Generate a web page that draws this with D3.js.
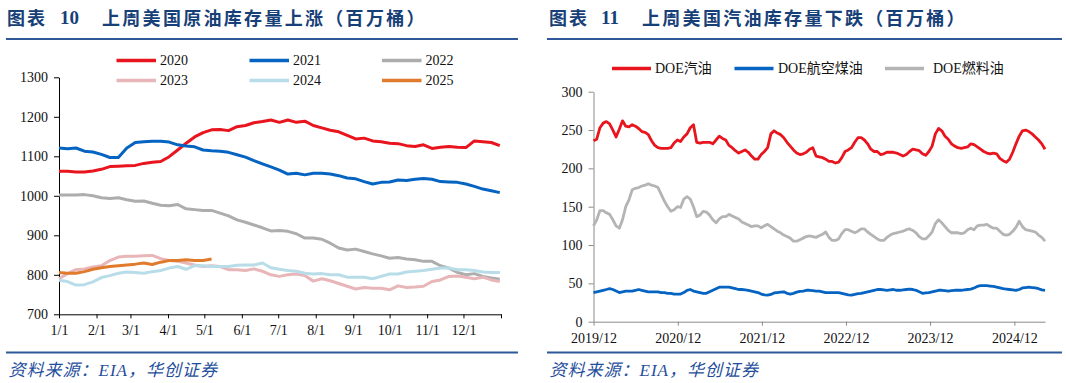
<!DOCTYPE html>
<html><head><meta charset="utf-8">
<script src="https://cdn.jsdelivr.net/npm/d3@7"></script>
<style>body{margin:0;background:#fff;} svg{display:block;}</style>
</head><body>
<svg id="c" width="1066" height="383"></svg>
<script>
// ---------------- Left chart data (weekly, by day of year) ----------------
const oilYears = ["2020", "2021", "2022", "2023", "2024", "2025"];
const oil2020 = [1062,1062,1060,1060,1063,1067,1074,1075,1076,1077,1082,1085,1087,1099,1116,1133,1149,1160,1167,1168,1165,1175,1178,1185,1188,1192,1186,1192,1186,1189,1178,1172,1166,1162,1153,1144,1146,1139,1137,1133,1132,1127,1125,1129,1120,1123,1125,1123,1122,1139,1137,1135,1127];
const oil2021 = [1121,1119,1121,1113,1111,1105,1097,1097,1121,1135,1137,1138,1138,1136,1129,1126,1124,1116,1114,1113,1110,1104,1098,1089,1081,1073,1065,1055,1057,1053,1057,1057,1055,1051,1045,1043,1036,1030,1034,1035,1040,1039,1042,1044,1042,1036,1035,1034,1030,1024,1017,1013,1008];
const oil2022 = [1002,1002,1002,1003,1000,995,993,995,990,986,987,981,976,975,978,967,965,963,963,956,949,939,933,926,919,911,912,910,904,893,893,890,880,868,863,865,859,853,848,842,844,840,838,834,834,823,817,806,800,803,796,792,789];
const oil2023 = [790,803,813,815,820,823,836,845,847,847,848,849,841,836,834,830,825,821,823,821,813,813,811,815,809,800,796,800,802,798,784,790,785,778,771,764,768,766,766,762,772,768,769,771,783,787,796,797,794,790,794,787,783];
const oil2024 = [786,783,774,775,782,793,798,804,807,806,804,808,811,817,821,814,823,823,821,821,821,824,825,825,830,818,814,811,809,804,802,803,800,800,794,794,794,790,796,802,802,807,809,811,814,817,817,813,813,811,807,806,806];
const oil2025 = [806,804,804,808,814,818,821,823,825,827,830,826,832,836,836,838,836,836,840];
const oilTicks = [700, 800, 900, 1000, 1100, 1200, 1300];
const monthLabels = ["1/1","2/1","3/1","4/1","5/1","6/1","7/1","8/1","9/1","10/1","11/1","12/1"];
const monthStartDays = [0,31,59,90,120,151,181,212,243,273,304,334];
const yearEndDay = 365;
const weekDays = 7;

// ---------------- Right chart data (bi-weekly from 2019/12) ----------------
const productNames = ["DOE汽油", "DOE航空煤油", "DOE燃料油"];
const gasoline = [236,238,253,259,261,258,250,241,251,262,255,254,257,255,252,248,247,244,236,230,227,226,226,226,227,233,237,235,241,245,253,257,234,233,234,234,234,232,237,242,239,237,230,227,223,220,222,224,221,216,212,212,218,222,227,245,249,246,244,240,234,229,224,220,218,219,221,225,227,216,215,214,212,209,209,207,208,214,222,224,227,234,240,240,237,232,225,222,222,218,219,221,221,221,220,218,216,218,222,225,224,223,219,217,222,229,245,252,249,242,238,232,229,227,226,227,228,232,231,228,225,222,220,219,220,219,213,210,208,212,221,232,242,249,250,248,245,241,237,232,225];
const jetFuel = [38,39,40,41,42,43,42,40,38,39,40,40,40,41,42,41,40,39,39,39,39,38,38,37,37,36,36,36,38,41,42,40,39,38,37,37,39,41,43,45,45,45,45,44,43,42,42,41.5,41,40,39,38,36,35,34.6,35.5,37.5,38,38.5,39,37,36,37,38.5,39.5,40,41,41,40.5,40,40,39,38,38,38,38,38,37,36,35,34.6,35.5,36.5,37,38,39,40,41,42,42,41.5,41,41.5,42,41,41,41.5,42,42.5,42,41,39,37,37.5,38,39,40,41,41,40.5,40,40.5,41,41,41,41.5,42,42.5,44,46,47,47,47,46.5,46,45,44,43,42.5,42,41.5,41,42,44,44.5,45,44.5,44,43,41.5,41];
const distillate = [125,133,145,145,142,140,133,125,122,133,150,159,172,174,175,177,178,180,178,177,175,166,157,150,144,146,150,149,160,163,160,150,137,139,144,143,139,133,129,134,137,137,140,138,136,134,130,128,126,124,125,125,122.5,125,127,124,121,118,116,113,111,109,105,105,107,109,111,112,111,110,112,114,117,110,106,106,108,115,120,120,118,116,118,121,121,117,114,111,108,106,106,110,113,115,116,117,118,120,121,119,116,111,108,108,112,117,128,133,129,124,119,116,116,116,115,116,120,122,120,125,126,126,127,124,122,122,118,114,113,114,118,123,131,124,120,119,118,117,113,110,105];
const productTicks = [0, 50, 100, 150, 200, 250, 300];
const tickYears = [2019, 2020, 2021, 2022, 2023, 2024];
const seriesStart = new Date(2019, 11, 1);
const stepDays = 14;

// ---------------- styles ----------------
const oilColors = ["#E8141E", "#0563C1", "#ADADAD", "#E8B6B8", "#B8DDE9", "#E07B2E"];
const prodColors = ["#E8141E", "#0563C1", "#B4B4B4"];
const titleColor = "#173F78";
const ruleColor = "#2E5898";
const serif = '"Liberation Serif","Times New Roman",serif';
const cjkSerif = '"Liberation Serif","Noto Sans CJK SC",serif';

const svg = d3.select("#c");

function header(xLabel, num, xNum, title, xTitle, ruleX0, ruleX1) {
  const g = svg.append("g").attr("font-weight", "bold").attr("fill", titleColor);
  g.append("text").attr("x", xLabel).attr("y", 17).attr("dominant-baseline", "central")
    .attr("font-family", '"Noto Sans CJK SC",sans-serif').attr("font-size", 18).attr("letter-spacing", 2).text("图表");
  g.append("text").attr("x", xNum).attr("y", 17).attr("dominant-baseline", "central")
    .attr("font-family", serif).attr("font-size", 19).text(num);
  g.append("text").attr("x", xTitle).attr("y", 17).attr("dominant-baseline", "central")
    .attr("font-family", '"Noto Sans CJK SC",sans-serif').attr("font-size", 18).attr("letter-spacing", 2.3).text(title);
  svg.append("line").attr("x1", ruleX0).attr("x2", ruleX1).attr("y1", 39).attr("y2", 39)
    .attr("stroke", ruleColor).attr("stroke-width", 2);
  svg.append("line").attr("x1", ruleX0).attr("x2", ruleX1).attr("y1", 352.5).attr("y2", 352.5)
    .attr("stroke", ruleColor).attr("stroke-width", 2);
  svg.append("text").attr("x", ruleX0 + 2.5).attr("y", 370).attr("dominant-baseline", "central")
    .attr("font-family", cjkSerif).attr("font-style", "italic").attr("font-size", 17)
    .attr("letter-spacing", 1).attr("fill", "#1F4E9C").text("资料来源：EIA，华创证券");
}
header(7, "10", 60, "上周美国原油库存量上涨（百万桶）", 102, 6, 518);
header(549, "11", 601, "上周美国汽油库存量下跌（百万桶）", 642, 547, 1062);

function styleAxis(g, color) {
  g.selectAll("path,line").attr("stroke", color).attr("stroke-width", 1);
  g.selectAll("text").attr("font-family", serif).attr("font-size", 14).attr("fill", "#111");
}

// ---------------- Left chart ----------------
const x1 = d3.scaleLinear().domain([0, yearEndDay]).range([59, 501]);
const y1 = d3.scaleLinear().domain([700, 1300]).range([314.3, 77.3]);

svg.append("g").attr("transform", "translate(59,0)")
  .call(d3.axisLeft(y1).tickValues(oilTicks).tickFormat(d3.format("d")).tickSize(5).tickPadding(6).tickSizeOuter(0))
  .call(g => styleAxis(g, "#000"));
svg.append("g").attr("transform", "translate(0,314.3)")
  .call(d3.axisBottom(x1).tickValues(monthStartDays.concat([yearEndDay])).tickSize(4).tickPadding(7).tickSizeOuter(0)
    .tickFormat((d, i) => i < monthLabels.length ? monthLabels[i] : ""))
  .call(g => styleAxis(g, "#000"));

const oilSeries = [oil2020, oil2021, oil2022, oil2023, oil2024, oil2025];
const line1 = d3.line().x((d, i) => x1(i * weekDays)).y(d => y1(d));
oilSeries.forEach((s, k) => {
  svg.append("path").datum(s).attr("d", line1).attr("fill", "none")
    .attr("stroke", oilColors[k]).attr("stroke-width", 3).attr("stroke-linejoin", "round");
});

// legend left
const legCols = [116.5, 249.5, 382];
oilYears.forEach((yr, k) => {
  const cx = legCols[k % 3], cy = k < 3 ? 60.5 : 80.5;
  svg.append("line").attr("x1", cx).attr("x2", cx + 39.5).attr("y1", cy).attr("y2", cy)
    .attr("stroke", oilColors[k]).attr("stroke-width", 3.5);
  svg.append("text").attr("x", cx + 43.5).attr("y", cy).attr("dominant-baseline", "central")
    .attr("font-family", serif).attr("font-size", 14).attr("fill", "#111").text(yr);
});

// ---------------- Right chart ----------------
const dates = gasoline.map((d, i) => d3.timeDay.offset(seriesStart, i * stepDays));
const x2 = d3.scaleTime().domain([dates[0], dates[dates.length - 1]]).range([593.5, 1045]);
const y2 = d3.scaleLinear().domain([0, 300]).range([321.7, 91.7]);

svg.append("g").attr("transform", "translate(593.5,0)")
  .call(d3.axisLeft(y2).tickValues(productTicks).tickSize(5).tickPadding(6).tickSizeOuter(0))
  .call(g => styleAxis(g, "#8A8A8A"));
svg.append("g").attr("transform", "translate(0,321.7)")
  .call(d3.axisBottom(x2).tickValues(tickYears.map(yv => new Date(yv, 11, 1)))
    .tickSize(4).tickPadding(7).tickSizeOuter(0).tickFormat(d3.timeFormat("%Y/%m")))
  .call(g => styleAxis(g, "#8A8A8A"));

const prodSeries = [gasoline, jetFuel, distillate];
const line2 = d3.line().x((d, i) => x2(dates[i])).y(d => y2(d));
prodSeries.forEach((s, k) => {
  svg.append("path").datum(s).attr("d", line2).attr("fill", "none")
    .attr("stroke", prodColors[k]).attr("stroke-width", 2.8).attr("stroke-linejoin", "round");
});

// legend right
const legX2 = [612, 734.5, 885];
const legTx2 = [655, 778, 933];
productNames.forEach((n, k) => {
  svg.append("line").attr("x1", legX2[k]).attr("x2", legX2[k] + 39).attr("y1", 68.5).attr("y2", 68.5)
    .attr("stroke", prodColors[k]).attr("stroke-width", 3.5);
  svg.append("text").attr("x", legTx2[k]).attr("y", 68.5).attr("dominant-baseline", "central")
    .attr("font-family", cjkSerif).attr("font-size", 14).attr("fill", "#111").text(n);
});
</script>
</body></html>
